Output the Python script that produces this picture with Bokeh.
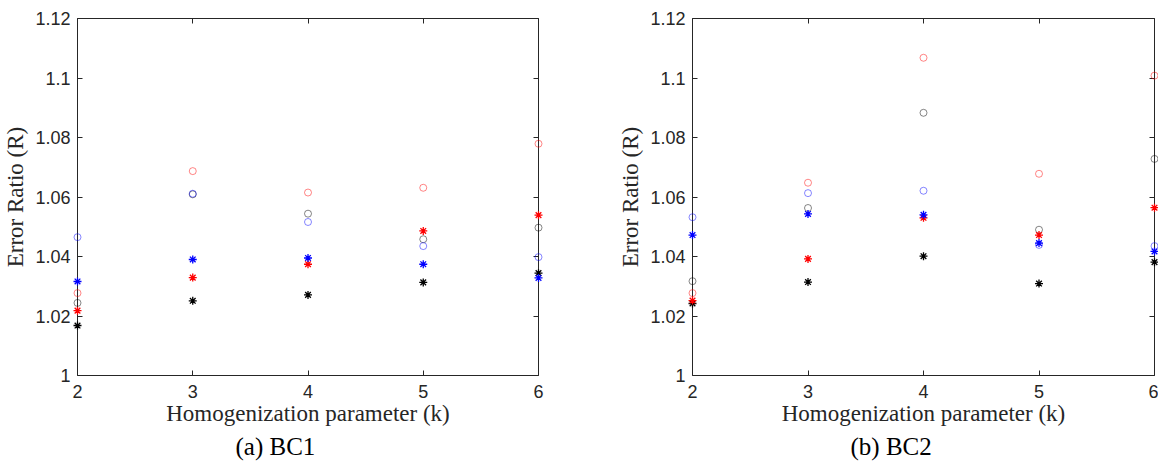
from bokeh.plotting import figure
from bokeh.models import (Range1d, LinearAxis, FixedTicker, NumeralTickFormatter,
                          CustomJSTickFormatter, Title)
from bokeh.layouts import row
from bokeh.embed import file_html
from bokeh.resources import INLINE

# ---------------- data ----------------
k = [2, 3, 4, 5, 6]
x_ticks = [2, 3, 4, 5, 6]
y_ticks = [1.0, 1.02, 1.04, 1.06, 1.08, 1.10, 1.12]

# (a) BC1
bc1_black_o = [1.0244, 1.0609, 1.0544, 1.0458, 1.0497]
bc1_red_o   = [1.0277, 1.0687, 1.0615, 1.0631, 1.0779]
bc1_blue_o  = [1.0465, 1.0611, 1.0516, 1.0435, 1.0398]
bc1_black_s = [1.0168, 1.0251, 1.0271, 1.0313, 1.0344]
bc1_red_s   = [1.0218, 1.0329, 1.0374, 1.0486, 1.0539]
bc1_blue_s  = [1.0316, 1.0390, 1.0395, 1.0374, 1.0328]

# (b) BC2
bc2_black_o = [1.0317, 1.0563, 1.0883, 1.0490, 1.0728]
bc2_red_o   = [1.0277, 1.0648, 1.1068, 1.0678, 1.1008]
bc2_blue_o  = [1.0532, 1.0613, 1.0621, 1.0439, 1.0435]
bc2_black_s = [1.0242, 1.0314, 1.0401, 1.0309, 1.0381]
bc2_red_s   = [1.0252, 1.0392, 1.0530, 1.0472, 1.0564]
bc2_blue_s  = [1.0472, 1.0543, 1.0540, 1.0445, 1.0417]

AX = "#262626"
SANS = "Liberation Sans"
SERIF = "Liberation Serif"


def style_axis(ax, ticks, show_labels):
    ax.ticker = FixedTicker(ticks=ticks)
    ax.axis_line_color = AX
    ax.axis_line_width = 1
    ax.major_tick_line_color = AX
    ax.major_tick_in = 5
    ax.major_tick_out = 0
    ax.minor_tick_in = 0
    ax.minor_tick_out = 0
    ax.major_label_text_font = SANS
    ax.major_label_text_color = AX
    ax.major_label_text_font_size = "18px"
    if not show_labels:
        ax.formatter = CustomJSTickFormatter(code="return ''")
        ax.major_label_standoff = 0


def make_panel(caption, series, border_left, frame_w, border_right):
    p = figure(frame_width=frame_w, frame_height=357,
               x_range=Range1d(2, 6), y_range=Range1d(1.0, 1.12),
               output_backend="svg", toolbar_location=None,
               min_border_left=border_left, min_border_right=border_right,
               min_border_top=18, min_border_bottom=40)
    p.grid.visible = False
    p.outline_line_color = None
    p.background_fill_color = "white"
    p.border_fill_color = "white"

    style_axis(p.xaxis[0], x_ticks, True)
    style_axis(p.yaxis[0], y_ticks, True)
    p.yaxis[0].formatter = NumeralTickFormatter(format="0.[00]")
    p.xaxis[0].major_label_standoff = 9
    p.yaxis[0].major_label_standoff = 7

    p.xaxis[0].axis_label = "Homogenization parameter (k)"
    p.yaxis[0].axis_label = "Error Ratio (R)"
    for ax in (p.xaxis[0], p.yaxis[0]):
        ax.axis_label_text_font = SERIF
        ax.axis_label_text_font_style = "normal"
        ax.axis_label_text_font_size = "23px"
        ax.axis_label_text_color = AX
    p.xaxis[0].axis_label_standoff = 0
    p.yaxis[0].axis_label_standoff = 4

    top = LinearAxis()
    right = LinearAxis()
    style_axis(top, x_ticks, False)
    style_axis(right, y_ticks, False)
    p.add_layout(top, "above")
    p.add_layout(right, "right")

    (bo, ro, uo, bs, rs, us) = series
    for ys, c in ((bo, "#000000"), (ro, "#ff0000"), (uo, "#0000ff")):
        r = p.scatter(k, ys, marker="circle", size=7, fill_color=None,
                      line_color=c, line_width=0.8, line_alpha=0.6)
        r.level = "overlay"
    for ys, c in ((bs, "#000000"), (rs, "#ff0000"), (us, "#0000ff")):
        r = p.scatter(k, ys, marker="asterisk", size=8, line_color=c,
                      line_width=1.3)
        r.level = "overlay"

    cap = Title(text=caption, align="left", offset=158, text_font=SERIF,
                text_font_size="25px", text_font_style="normal",
                text_color="black", standoff=4)
    p.add_layout(cap, "below")
    return p


p1 = make_panel("(a) BC1", (bc1_black_o, bc1_red_o, bc1_blue_o,
                            bc1_black_s, bc1_red_s, bc1_blue_s), 75, 461, 75)
p2 = make_panel("(b) BC2", (bc2_black_o, bc2_red_o, bc2_blue_o,
                            bc2_black_s, bc2_red_s, bc2_blue_s), 79, 462, 4)

layout = row(p1, p2)
open("out.html", "w").write(file_html(layout, INLINE))
